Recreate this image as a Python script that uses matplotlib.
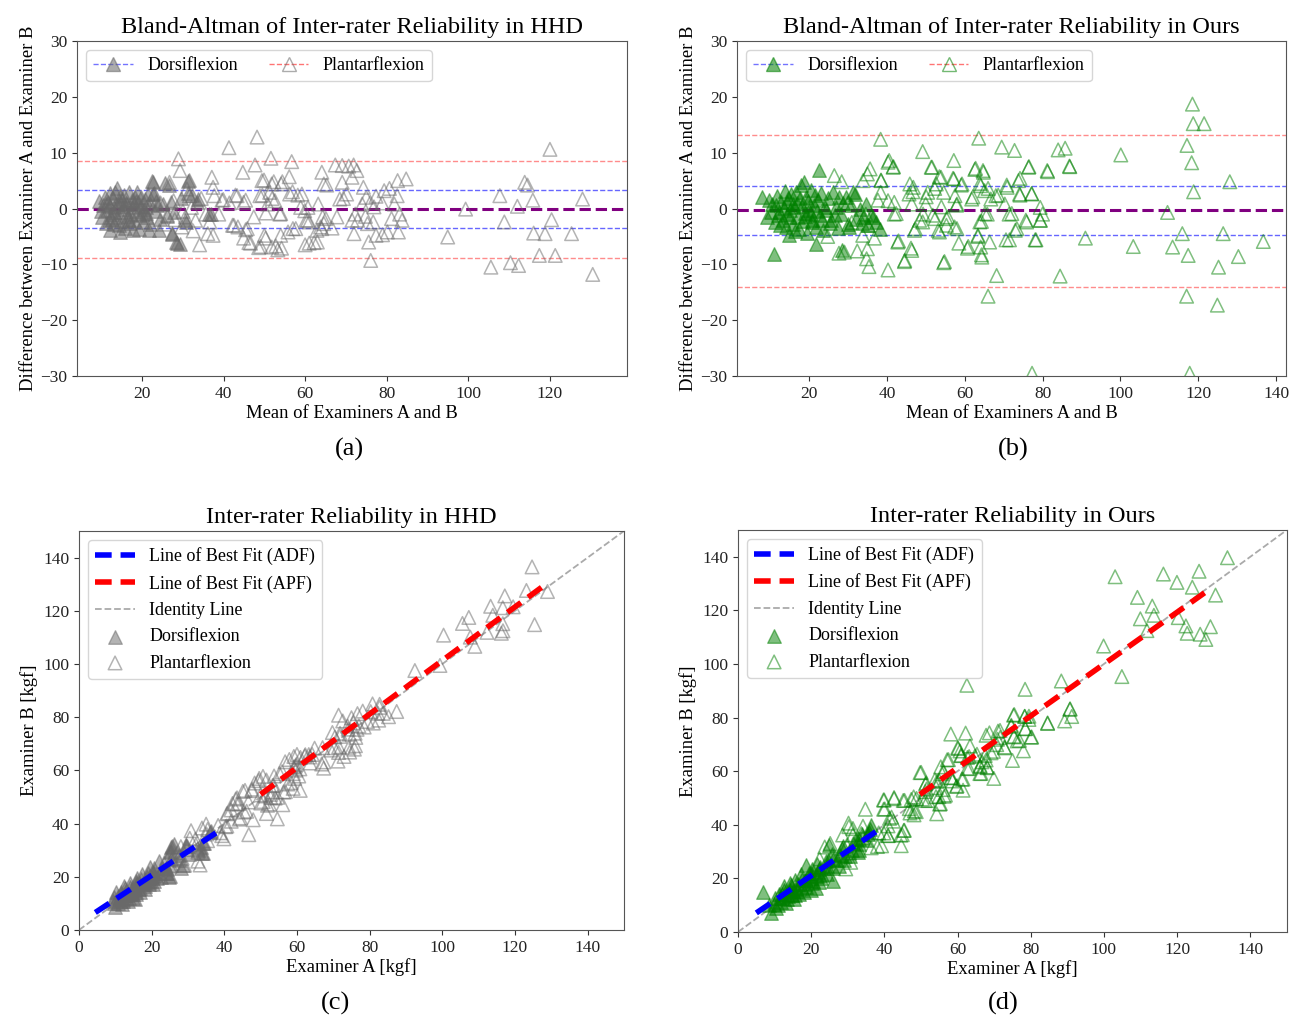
import matplotlib
matplotlib.use('Agg')
import matplotlib.pyplot as plt
from matplotlib.lines import Line2D
import numpy as np

plt.rcParams['font.family'] = ['Liberation Serif', 'DejaVu Serif']

# ---- HHD: Bland-Altman points (mean of A and B, difference A - B) ----
hhd_dorsi_mean = [9.3, 9.8, 10.1, 10.4, 10.8, 11.0, 11.4, 11.6, 11.8, 12.0, 12.2, 12.2, 12.5, 12.8, 13.0,
                  13.2, 13.4, 13.7, 13.8, 14.0, 14.3, 14.5, 14.6, 14.8, 15.0, 15.2, 15.5, 15.6, 15.8, 16.0,
                  16.3, 16.5, 16.7, 17.0, 17.1, 17.4, 17.6, 17.8, 18.0, 18.2, 18.5, 18.8, 19.0, 19.2, 19.4,
                  19.6, 19.8, 20.1, 20.4, 20.6, 20.9, 21.2, 21.4, 21.6, 21.8, 22.0, 22.4, 22.6, 22.7, 22.9,
                  23.2, 23.5, 23.7, 24.1, 24.4, 25.0, 25.7, 26.0, 26.6, 27.0, 27.2, 27.4, 27.8, 28.2, 28.6,
                  29.2, 29.5, 30.4, 30.7, 31.3, 31.5, 31.3, 32.3, 33.5, 33.6, 36.5, 36.8, 11.2, 13.0, 14.2,
                  16.8, 17.9, 19.9, 21.0, 15.3, 12.6, 18.6]
hhd_dorsi_diff = [1.3, -0.5, -1.5, 0.6, 2.1, -2.6, -0.3, 1.2, -2.1, 0.4, 2.7, -3.9, -1.0, 1.8, -2.8,
                  0.2, 3.0, 3.7, -1.6, 0.9, -3.0, -4.2, 2.2, -0.6, 1.5, -2.3, 2.4, -0.1, -3.5, 1.0,
                  0.9, -1.3, 2.9, -2.6, -0.9, 1.6, 0.3, -3.8, -2.1, 2.0, -0.4, 3.0, 1.1, -3.6, -1.2,
                  2.1, 0.5, -2.4, 0.0, 1.7, -0.8, -1.5, 2.6, -3.9, 0.8, -2.7, 5.0, 2.6, 4.8, 2.7,
                  -0.5, 1.4, 0.6, -3.9, -1.8, 0.9, 4.5, -1.3, 4.2, 1.2, -4.5, -4.4, -0.6, -6.0, -6.2,
                  -6.3, 1.8, -2.1, -2.4, 5.0, 5.1, 2.7, 2.4, 1.2, 1.7, -1.0, -0.9, 0.9, -0.6, 1.3,
                  -2.0, 0.8, -0.9, 0.3, 0.5, -1.8, 1.4]

hhd_plant_mean = [26.7, 27.7, 28.9, 29.3, 29.7, 30.6, 31.6, 32.1, 33.1, 34.1, 35.6, 34.5, 36.1, 36.6,
                  37.1, 37.4, 37.4, 37.7, 38.8, 39.6, 39.9, 30.0, 26.2, 28.0, 24.5, 25.5, 32.5, 31.0,
                  41.3, 41.4, 42.2, 42.5, 42.9, 43.3, 43.5, 44.7, 44.9, 44.9, 45.4, 45.4, 45.8, 46.2,
                  46.6, 47.4, 47.7, 48.2, 48.6, 48.9, 49.1, 49.4, 49.5, 49.9, 50.0, 50.3, 50.4, 50.8,
                  51.3, 51.6, 51.8, 51.8, 51.9, 52.3, 52.6, 52.8, 53.3, 53.8, 54.0, 54.1, 54.2, 54.4,
                  54.0, 55.8, 56.1, 56.2, 56.7, 56.9, 57.0, 57.7, 58.2, 58.9, 59.2, 59.9, 60.0,
                  60.2, 60.6, 60.7, 61.0, 61.0, 62.2, 62.9, 63.0, 63.2, 63.8, 64.1, 64.1, 64.3, 64.6,
                  64.6, 65.1, 65.3, 66.6, 67.4, 67.8, 68.5, 69.1, 69.1, 69.4, 70.2, 70.7, 71.5, 71.5,
                  71.9, 72.0, 72.3, 72.7, 72.9, 74.0, 74.3, 74.8, 75.0, 75.3, 75.6, 76.0, 76.1, 76.7,
                  76.9, 77.4, 77.4, 78.9, 79.0, 79.4, 80.2, 80.7, 81.2, 81.9, 82.6, 82.7, 83.2, 83.8,
                  82.9, 84.8, 95.0, 99.4, 105.6, 107.8, 108.9, 110.4, 112.1, 112.4, 113.9, 114.6,
                  115.9, 116.1, 117.5, 118.9, 120.1, 120.5, 121.4, 125.4, 128.1, 130.6]
hhd_plant_diff = [4.7, 1.4, 8.9, 6.8, -3.3, -1.5, 2.3, 0.2, -2.1, -6.5, -1.0, 1.8, -4.5, -2.4,
                  5.6, 3.8, -4.8, 2.3, -1.0, 1.5, 1.6, -0.5, -1.2, -2.0, 1.0, -2.8, -4.0, 3.5,
                  10.9, 1.0, -3.0, -3.0, 2.4, 2.3, -3.3, 6.5, 1.1, -5.3, -3.8, 1.5, -3.6, -6.1,
                  -6.2, -1.5, 7.8, 12.8, -7.0, 2.3, -6.8, 5.0, 2.4, 5.1, -4.8, -5.3, -0.8, 0.8,
                  2.9, 9.0, 4.4, -6.9, 1.8, 4.8, 1.4, -6.7, -7.4, -1.0, -4.8, 4.4, -7.1, 4.8,
                  -0.9, -4.2, 5.7, 2.6, 8.4, 3.0, -3.6, -3.6, 2.4, 0.2, 2.6, -0.4, -6.5,
                  -2.1, -2.1, 0.2, -2.4, -6.2, -6.1, -3.9, -6.0, 0.8, -3.3, 6.5, -3.6, -1.5, 4.4,
                  -2.7, -1.8, 4.2, -3.5, 7.8, -1.5, 1.7, 7.7, 4.7, 1.8, 2.6, 7.6, 5.6, -2.1,
                  7.8, -4.5, -1.0, 6.8, -2.1, 0.8, 3.8, -1.4, 2.0, -2.7, -6.0, 1.1, -9.3, -2.4,
                  0.3, 2.2, -4.8, 1.0, -4.7, 3.2, -4.2, 3.6, -1.8, 0.8, 2.3, 5.0, -1.0, -2.1,
                  -4.2, 5.3, -5.1, -0.1, -10.5, 2.3, -2.4, -9.7, 0.4, -10.2, 4.7, 4.2,
                  1.5, -4.4, -8.4, -4.5, 10.6, -2.0, -8.4, -4.5, 1.7, -11.8]

# ---- Ours: Bland-Altman points ----
ours_dorsi_mean = [8.0, 9.3, 9.7, 10.2, 10.6, 11.0, 11.3, 11.5, 11.9, 12.3, 12.6, 12.9, 13.2, 13.5, 13.8,
                   14.1, 14.4, 14.7, 14.9, 15.2, 15.5, 15.8, 16.0, 16.3, 16.6, 16.9, 17.2, 17.5, 17.9, 18.2,
                   18.5, 18.8, 19.0, 19.2, 19.5, 19.8, 20.1, 20.4, 20.7, 20.9, 21.2, 21.5, 21.8, 21.8, 22.2,
                   22.5, 22.8, 23.1, 23.6, 24.0, 24.4, 24.9, 25.3, 25.7, 26.2, 26.6, 27.0, 27.4, 27.8, 28.2,
                   28.6, 28.7, 29.5, 29.9, 30.4, 30.8, 31.3, 31.8, 32.2, 33.0, 33.5, 33.9, 34.6, 35.2, 36.0,
                   36.5, 37.2, 38.2, 16.1, 17.6, 18.9, 14.3, 20.5, 22.0, 12.0, 23.3, 15.0]
ours_dorsi_diff = [2.0, -1.5, 1.5, -0.6, 0.8, -8.1, -2.4, 0.6, 2.3, -0.6, -3.0, 1.2, -2.1, 0.1, 3.1,
                   -3.3, -1.0, 1.9, -4.7, -0.2, 2.6, 0.9, -2.8, -4.0, 3.0, 1.0, -1.6, -3.6, 4.2, 0.4,
                   -2.2, 4.8, -0.8, 2.1, -4.3, 1.3, -0.3, 3.3, -2.5, -2.1, 0.7, 2.5, -3.3, -6.3, 1.6,
                   6.9, -1.2, 2.7, -3.8, 0.2, -0.3, 1.9, -2.6, -2.1, 2.9, -1.2, 0.3, -3.4, 2.1, -0.9,
                   -7.4, 1.0, 2.1, -2.8, -3.3, 0.6, 3.0, 2.6, -1.8, 0.0, -2.6, -1.5, 0.8, -2.9, -1.2,
                   -1.5, -2.4, -3.6, 0.2, 1.8, -1.3, 1.1, -1.0, -0.5, -1.2, -2.0, -1.5]

ours_plant_mean = [24.8, 26.5, 27.7, 28.4, 29.1, 30.0, 31.0, 32.4, 33.8, 33.9, 34.6, 34.8, 35.0, 35.0,
                   35.2, 35.4, 35.7, 36.8, 37.7, 38.4, 38.4, 38.5, 40.3, 40.3, 40.3, 41.6, 41.9, 41.9,
                   43.0, 44.6, 45.7, 45.9, 46.4, 46.4, 46.8, 47.3, 48.4, 49.2, 49.3, 50.0, 50.5, 51.6,
                   52.4, 52.7, 53.2, 53.9, 54.6, 54.6, 55.3, 55.7, 57.2, 57.2, 57.5, 58.0, 58.0, 58.5,
                   59.3, 60.7, 61.8, 62.6, 63.4, 63.6, 64.1, 64.1, 64.3, 64.4, 64.8, 65.1, 65.8, 66.0,
                   66.4, 66.7, 68.0, 68.2, 69.5, 70.3, 70.9, 71.4, 71.5, 72.8, 73.0, 73.8, 74.1, 75.7,
                   76.4, 76.5, 77.2, 77.3, 78.3, 79.4, 79.4, 80.0, 81.3, 84.0, 84.5, 85.8, 87.0, 91.0,
                   100.1, 103.3, 112.1, 113.4, 115.9, 117.0, 117.1, 117.4, 117.8, 118.3, 118.5, 118.7,
                   118.8, 121.5, 124.9, 125.2, 126.4, 128.1, 130.3, 136.7,
                   40.6, 41.7, 51.4, 62.8, 64.7, 81.2, 86.9, 38.5, 46.7, 50.1, 52.3, 53.5, 57.0, 59.1,
                   62.1, 63.9, 66.0, 68.6, 70.8, 74.2, 74.2, 77.2, 42.4, 51.8, 54.0, 55.3, 57.9, 49.2,
                   47.1, 53.5, 57.4, 63.9, 65.2, 72.1, 73.4, 75.9, 79.4, 42.8, 46.2, 44.5, 54.8, 60.9,
                   63.4, 64.3, 70.6, 78.1]
ours_plant_diff = [-5.0, 5.9, -8.0, 4.8, -7.8, 1.0, -2.5, -7.6, -4.8, 5.0, -1.0, -9.0, -7.2, 6.2,
                   -3.0, -10.4, 7.1, -5.3, 1.5, 12.4, 2.9, 5.0, 8.3, 1.4, -11.0, 7.4, 1.1, -1.0,
                   -5.8, -9.3, 2.6, 4.4, 0.8, -7.5, 3.8, -3.6, -2.1, 10.2, -1.0, 0.8, 2.9, 7.4,
                   -1.8, 4.4, -3.9, 5.6, 2.9, -9.7, -3.0, -1.5, 8.6, 5.3, 2.3, 0.8, -3.6, -6.2,
                   4.4, -7.1, 1.7, 7.0, -4.8, 12.6, 4.1, -6.9, -2.3, -8.7, 6.5, 3.2, -1.0, -15.7,
                   -6.0, 1.7, 2.3, -12.0, 11.0, 0.8, 3.8, -1.0, -5.6, 10.4, -3.9, 5.0, 2.6, -2.1,
                   7.4, 7.5, 2.6, -29.5, -5.6, -2.1, 0.2, -1.0, 6.6, 10.5, -12.1, 10.8, 7.5, -5.3,
                   9.6, -6.8, -0.7, -6.9, -4.5, -15.7, 11.3, -8.4, -29.5, 8.2, 18.7, 15.2,
                   3.0, 15.2, -17.3, -10.5, -4.5, 4.8, -8.6, -5.9,
                   8.6, 7.5, 7.4, 7.2, 6.8, 6.8, 7.6, 5.1, 3.0, 2.1, 3.6, 5.7, 5.4, 4.2,
                   2.1, 4.5, 3.6, 2.4, 4.2, 5.4, 2.4, 2.7, -0.9, -1.2, 0.3, -1.8, 0.6, -2.4,
                   -3.9, -4.2, -3.3, -2.4, -0.9, -0.9, -3.6, -2.4, -2.1, -6.0, -7.1, -9.5, -9.5, -6.8,
                   -5.0, -8.3, -5.6, -5.6]

# agreement limits: (mean, lower, upper)
hhd_dorsi_limits = (-0.1, -3.55, 3.35)
hhd_plant_limits = (-0.1, -8.8, 8.6)
ours_dorsi_limits = (-0.35, -4.8, 4.0)
ours_plant_limits = (-0.35, -14.0, 13.2)

# best fit line end points (x0, y0, x1, y1)
hhd_fit_adf = (4.5, 6.6, 38.7, 37.4)
hhd_fit_apf = (50.0, 51.0, 128.2, 129.7)
ours_fit_adf = (5.0, 7.1, 38.2, 37.9)
ours_fit_apf = (49.7, 51.3, 129.4, 128.4)


def style_axes(ax):
    for s in ax.spines.values():
        s.set_color('#555555')
    ax.tick_params(labelsize=12.5, colors='#333333', labelcolor='#222222')


def bland_altman(ax, dm, dd, pm, pd, dlim, plim, color, title, xlim, xticks):
    ax.scatter(dm, dd, marker='^', s=95, facecolors=color, edgecolors=color, alpha=0.5, zorder=3)
    ax.scatter(pm, pd, marker='^', s=95, facecolors='none', edgecolors=color, alpha=0.5,
               linewidths=1.1, zorder=3)
    ax.axhline(dlim[1], color='blue', ls='--', lw=1, alpha=0.6)
    ax.axhline(dlim[2], color='blue', ls='--', lw=1, alpha=0.6)
    ax.axhline(plim[1], color='red', ls='--', lw=1, alpha=0.45)
    ax.axhline(plim[2], color='red', ls='--', lw=1, alpha=0.45)
    ax.axhline(dlim[0], color='purple', ls='--', lw=2.2)
    ax.set_ylim(-30, 30)
    ax.set_xlim(*xlim)
    ax.set_xticks(xticks)
    ax.set_yticks([-30, -20, -10, 0, 10, 20, 30])
    ax.set_title(title, fontsize=17.5, pad=6)
    ax.set_xlabel('Mean of Examiners A and B', fontsize=13.4, labelpad=2)
    ax.set_ylabel('Difference between Examiner A and Examiner B', fontsize=13.4, labelpad=2)
    handles = [Line2D([], [], color='blue', ls='--', lw=1, alpha=0.8, marker='^', markersize=10,
                      markerfacecolor=color, markeredgecolor=color),
               Line2D([], [], color='red', ls='--', lw=1, alpha=0.5, marker='^', markersize=10,
                      markerfacecolor='none', markeredgecolor=color)]
    leg = ax.legend(handles, ['Dorsiflexion', 'Plantarflexion'], loc='upper left', ncol=2,
                    fontsize=13, columnspacing=1.7, handlelength=2.2, numpoints=1)
    for h in leg.legend_handles:
        h.set_alpha(0.55)
    style_axes(ax)


def reliability(ax, dm, dd, pm, pd, fit_adf, fit_apf, color, title):
    da = np.array(dm) + np.array(dd) / 2
    db = np.array(dm) - np.array(dd) / 2
    pa = np.array(pm) + np.array(pd) / 2
    pb = np.array(pm) - np.array(pd) / 2
    ax.scatter(da, db, marker='^', s=95, facecolors=color, edgecolors=color, alpha=0.5,
               zorder=3, label='Dorsiflexion')
    ax.scatter(pa, pb, marker='^', s=95, facecolors='none', edgecolors=color, alpha=0.5,
               linewidths=1.1, zorder=3, label='Plantarflexion')
    ax.plot([fit_adf[0], fit_adf[2]], [fit_adf[1], fit_adf[3]], color='blue', ls='--', lw=4,
            dashes=(3, 1.6), zorder=4, label='Line of Best Fit (ADF)')
    ax.plot([fit_apf[0], fit_apf[2]], [fit_apf[1], fit_apf[3]], color='red', ls='--', lw=4,
            dashes=(3, 1.6), zorder=4, label='Line of Best Fit (APF)')
    ax.plot([0, 150], [0, 150], color='#aaaaaa', ls='--', lw=1.3, zorder=2, label='Identity Line')
    ax.set_xlim(0, 150)
    ax.set_ylim(0, 150)
    ax.set_xticks(range(0, 141, 20))
    ax.set_yticks(range(0, 141, 20))
    ax.set_title(title, fontsize=17.5, pad=6)
    ax.set_xlabel('Examiner A [kgf]', fontsize=13.4, labelpad=2)
    ax.set_ylabel('Examiner B [kgf]', fontsize=13.4, labelpad=4)
    h, l = ax.get_legend_handles_labels()
    order = [2, 3, 4, 0, 1]
    ax.legend([h[i] for i in order], [l[i] for i in order], loc='upper left', fontsize=13,
              handlelength=2.2, labelspacing=0.52)
    style_axes(ax)


fig = plt.figure(figsize=(12.9, 10.18), dpi=100)
ax_a = fig.add_axes([0.0597, 0.6306, 0.4263, 0.3291])
ax_b = fig.add_axes([0.5713, 0.6306, 0.4255, 0.3291])
ax_c = fig.add_axes([0.0612, 0.0864, 0.4225, 0.3920])
ax_d = fig.add_axes([0.5721, 0.0845, 0.4255, 0.3949])

bland_altman(ax_a, hhd_dorsi_mean, hhd_dorsi_diff, hhd_plant_mean, hhd_plant_diff,
             hhd_dorsi_limits, hhd_plant_limits, 'dimgray',
             'Bland-Altman of Inter-rater Reliability in HHD', (4, 139), range(20, 121, 20))
bland_altman(ax_b, ours_dorsi_mean, ours_dorsi_diff, ours_plant_mean, ours_plant_diff,
             ours_dorsi_limits, ours_plant_limits, 'green',
             'Bland-Altman of Inter-rater Reliability in Ours', (1.5, 142.5), range(20, 141, 20))
reliability(ax_c, hhd_dorsi_mean, hhd_dorsi_diff, hhd_plant_mean, hhd_plant_diff,
            hhd_fit_adf, hhd_fit_apf, 'dimgray', 'Inter-rater Reliability in HHD')
reliability(ax_d, ours_dorsi_mean, ours_dorsi_diff, ours_plant_mean, ours_plant_diff,
            ours_fit_adf, ours_fit_apf, 'green', 'Inter-rater Reliability in Ours')

fig.text(349 / 1290, 1 - 449 / 1018, '(a)', fontsize=19, ha='center', va='center')
fig.text(1013 / 1290, 1 - 449 / 1018, '(b)', fontsize=19, ha='center', va='center')
fig.text(336 / 1290, 1 - 1003 / 1018, '(c)', fontsize=19, ha='center', va='center')
fig.text(1003 / 1290, 1 - 1003 / 1018, '(d)', fontsize=19, ha='center', va='center')

fig.savefig('out.png', dpi=100)
